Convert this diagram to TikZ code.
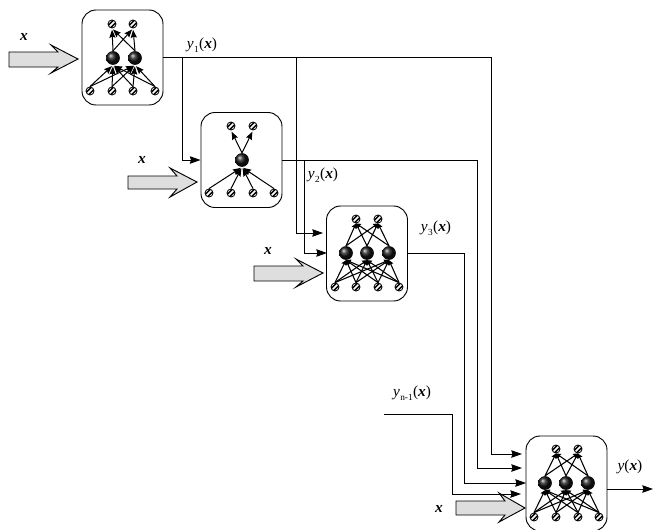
\documentclass[tikz,border=0pt]{standalone}
\usepackage{fontspec}
\setmainfont{Liberation Serif}
\usetikzlibrary{arrows.meta}
\newcommand{\lblx}{\textbf{\textit{x}}}
\newcommand{\lbly}[1]{\textit{y}\kern0.3pt\raisebox{-0.55ex}{\fontsize{7}{8}\selectfont #1}\kern0.3pt(\lblx)}
\tikzset{
  px/.style={x=0.75pt,y=-0.75pt},
  unit/.style={draw,line width=0.7pt,rounded corners=10.5pt,minimum width=60.75pt,minimum height=71.25pt,inner sep=0pt},
  inp/.style={circle,draw,line width=0.65pt,fill=white,inner sep=0pt,minimum size=6pt,
    path picture={
      \draw[line width=1.1pt] ([xshift=-3pt,yshift=-1.2pt]path picture bounding box.center) -- ([xshift=1.2pt,yshift=3pt]path picture bounding box.center);
      \draw[line width=1.1pt] ([xshift=-1.2pt,yshift=-3pt]path picture bounding box.center) -- ([xshift=3pt,yshift=1.2pt]path picture bounding box.center);
    }},
  hid/.style={circle,ball color=black!92,inner sep=0pt,minimum size=10.3pt},
  conn/.style={line width=0.75pt,-{Stealth[length=6pt,width=4.6pt,inset=0.8pt]},shorten >=1pt},
  conntight/.style={line width=0.8pt,-{Stealth[length=3.5pt,width=3.8pt,inset=0.3pt]}},
  wire/.style={line width=0.75pt,-{Stealth[length=8pt,width=5.6pt,inset=0.8pt]}},
  bigarrow/.style={draw,line width=0.7pt,fill=black!13,line join=miter},
  lab/.style={font=\fontsize{11.5}{13}\selectfont,inner sep=0pt}
}
\begin{document}
\begin{tikzpicture}[px]
\useasboundingbox (0,0) rectangle (653,529);
\clip (0,0) rectangle (653,529);
% units
\node[unit] (b1) at (122.5,57.5) {};
\node[unit] (b2) at (241.5,160) {};
\node[unit] (b3) at (367,253.5) {};
\node[unit] (b4) at (566.5,483.5) {};
% unit 1
\foreach \n/\x in {1/112,2/133} \node[inp] (at\n) at (\x,24) {};
\foreach \n/\x in {1/113,2/135} \node[hid] (ah\n) at (\x,58) {};
\foreach \n/\x in {1/90,2/112,3/133,4/155} \node[inp] (ai\n) at (\x,91) {};
% unit 2
\foreach \n/\x in {1/231,2/253} \node[inp] (bt\n) at (\x,126) {};
\node[hid] (bh1) at (242,160) {};
\foreach \n/\x in {1/209,2/231,3/253,4/274} \node[inp] (bi\n) at (\x,193) {};
% unit 3
\foreach \n/\x in {1/356,2/378} \node[inp] (ct\n) at (\x,219) {};
\foreach \n/\x in {1/346,2/367,3/389} \node[hid] (ch\n) at (\x,253) {};
\foreach \n/\x in {1/335,2/356,3/378,4/399} \node[inp] (ci\n) at (\x,287) {};
% unit 4
\foreach \n/\x in {1/556,2/578} \node[inp] (dt\n) at (\x,449) {};
\foreach \n/\x in {1/545,2/566,3/588} \node[hid] (dh\n) at (\x,483) {};
\foreach \n/\x in {1/534,2/556,3/578,4/599} \node[inp] (di\n) at (\x,517) {};
% inner connections
\foreach \i in {1,...,4} \foreach \j in {1,2} \draw[conn] (ai\i.north) -- (ah\j.south);
\foreach \i in {1,2} \foreach \j in {1,2} \draw[conn] (ah\i.north) -- (at\j.south);
\foreach \i in {1,...,4} \draw[conn] (bi\i.north) -- (bh1.south);
\foreach \j in {1,2} \draw[conn] (bh1.north) -- (bt\j.south);
\foreach \i in {1,...,4} \foreach \j in {1,2,3} \draw[conntight] (ci\i.north) -- (ch\j.south);
\foreach \i in {1,2,3} \foreach \j in {1,2} \draw[conntight] (ch\i.north) -- (ct\j.south);
\foreach \i in {1,...,4} \foreach \j in {1,2,3} \draw[conntight] (di\i.north) -- (dh\j.south);
\foreach \i in {1,2,3} \foreach \j in {1,2} \draw[conntight] (dh\i.north) -- (dt\j.south);
% free ends
\coordinate (t3a) at (323,233);
\coordinate (t3b) at (327,253);
\coordinate (t4a) at (522,454);
\coordinate (t4b) at (522,468);
\coordinate (t4c) at (526,483);
\coordinate (t4d) at (521,494);
\coordinate (ns) at (384,414);
\coordinate (out) at (653,489);
\coordinate (outs) at (607,489);
% outputs
\draw[wire] (b1.east) -- (491,57.5) -- (491,454) -- (t4a);
\draw[wire] (182,57.5) -- (182,160) -- (b2.west);
\draw[wire] (296,57.5) -- (296,233) -- (t3a);
\draw[wire] (b2.east) -- (477,160) -- (477,468) -- (t4b);
\draw[wire] (304,160) -- (304,253) -- (t3b);
\draw[wire] (b3.east) -- (464,253.5) -- (464,483) -- (t4c);
\draw[wire] (ns) -- (452,414) -- (452,494) -- (t4d);
\draw[wire] (outs) -- (out);
% input arrows
\draw[bigarrow] (9,52) -- (58,52) -- (51,45) -- (78,59) -- (51,73) -- (58,67) -- (9,67) -- cycle;
\draw[bigarrow] (128,176) -- (177,176) -- (170,168) -- (197,182) -- (170,197) -- (177,189) -- (128,189) -- cycle;
\draw[bigarrow] (254,266) -- (303,266) -- (296,259) -- (323,273) -- (296,287) -- (303,281) -- (254,281) -- cycle;
\draw[bigarrow] (456,501) -- (505,501) -- (499,493) -- (525,508) -- (499,522) -- (505,515) -- (456,515) -- cycle;
% labels
\node[lab] (lx1) at (24,37) {\lblx};
\node[lab] (lx2) at (142,160) {\lblx};
\node[lab] (lx3) at (268,251) {\lblx};
\node[lab] (lx4) at (439,509) {\lblx};
\node[lab] (ly1) at (202,45) {\lbly{1}};
\node[lab] (ly2) at (323,175) {\lbly{2}};
\node[lab] (ly3) at (436,228) {\lbly{3}};
\node[lab] (lyn) at (412,393) {\lbly{n-1}};
\node[lab] (ly) at (630,467) {\textit{y}(\lblx)};
\end{tikzpicture}
\end{document}
